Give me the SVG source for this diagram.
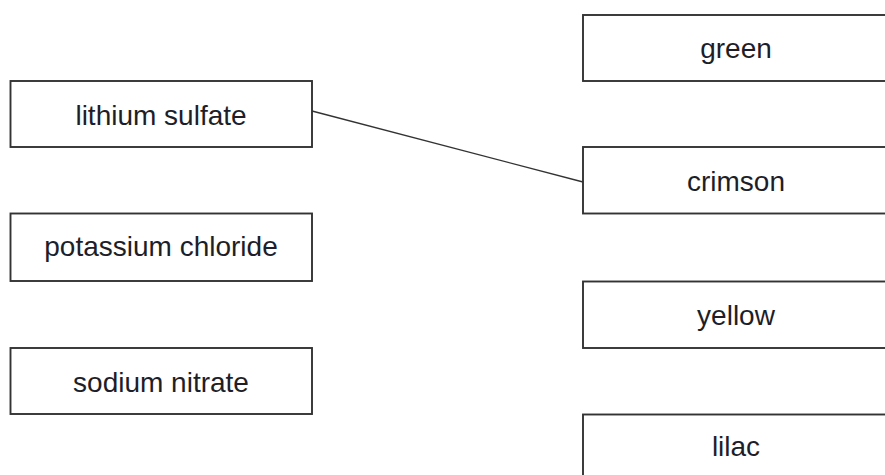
<svg xmlns="http://www.w3.org/2000/svg" width="885" height="475" viewBox="0 0 885 475">
<style>
.box{fill:#fff;stroke:#333;stroke-width:1.9}
.lbl{font-family:"Liberation Sans",Arial,sans-serif;font-size:28px;fill:#1e1e28;text-anchor:middle}
.conn{stroke:#333;stroke-width:1.4;fill:none}
</style>
<rect width="885" height="475" fill="#fff"/>
<g id="lithium-sulfate"><rect class="box" x="10.5" y="81" width="301.5" height="66"/><text class="lbl" x="161" y="125">lithium sulfate</text></g>
<g id="potassium-chloride"><rect class="box" x="10.5" y="213.5" width="301.5" height="67.5"/><text class="lbl" x="161" y="256">potassium chloride</text></g>
<g id="sodium-nitrate"><rect class="box" x="10.5" y="348" width="301.5" height="66"/><text class="lbl" x="161" y="392">sodium nitrate</text></g>
<g id="green"><rect class="box" x="583" y="15" width="320" height="66"/><text class="lbl" x="736" y="58">green</text></g>
<g id="crimson"><rect class="box" x="583" y="147" width="320" height="66.5"/><text class="lbl" x="736" y="191">crimson</text></g>
<g id="yellow"><rect class="box" x="583" y="281.5" width="320" height="66.5"/><text class="lbl" x="736" y="325">yellow</text></g>
<g id="lilac"><rect class="box" x="583" y="414.5" width="320" height="80"/><text class="lbl" x="736" y="456">lilac</text></g>
<g id="connectors"><line class="conn" x1="312" y1="111" x2="583" y2="182"/></g>
</svg>
